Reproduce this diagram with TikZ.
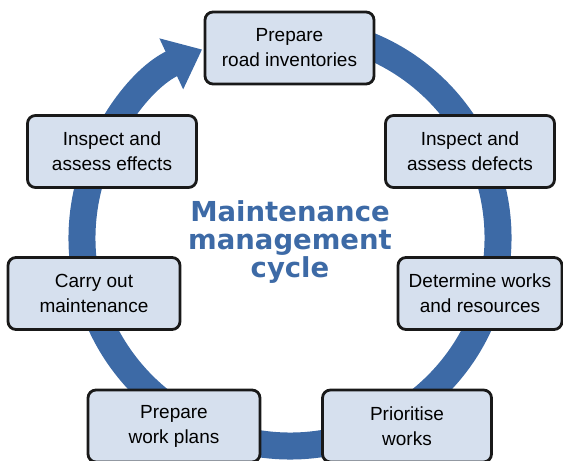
\documentclass[tikz,border=0pt]{standalone}
\usepackage{fontspec}
\setmainfont{Liberation Sans}
\newfontfamily\titlefont{DejaVu Sans}
\usepackage{xcolor}
\usetikzlibrary{arrows.meta}

\definecolor{ringblue}{RGB}{61,106,166}
\definecolor{boxfill}{RGB}{214,224,238}
\definecolor{boxline}{RGB}{25,25,25}

\begin{document}
\begin{tikzpicture}[
    x=1pt, y=1pt,
    box/.style={rectangle, draw=boxline, fill=boxfill, line width=2.8pt, rounded corners=8pt, align=center, minimum height=72pt, minimum width=169pt, inner sep=0pt, font=\fontsize{19}{25}\selectfont},
    ring/.style={-{Triangle[length=34pt, width=54pt]}, line width=27pt, draw=ringblue},
    title/.style={align=center, text=ringblue, font=\titlefont\bfseries\fontsize{27.5}{28}\selectfont}
]
    \useasboundingbox (0,0) rectangle (563,461);
    \coordinate (c) at (290,223);

    % the cycle ring, drawn under the boxes
    \draw [ring] ([shift={(80:208pt)}]c) arc [start angle=80, end angle=-245, radius=208pt];

    \node [box] (n1) at (289.5,413) {Prepare\\road inventories};
    \node [box] (n2) at (470,309.5) {Inspect and\\assess defects};
    \node [box, minimum width=164pt] (n3) at (480,167.5) {Determine works\\and resources};
    \node [box] (n4) at (407,35) {Prioritise\\works};
    \node [box, minimum width=172pt] (n5) at (174,35) {Prepare\\work plans};
    \node [box, minimum width=172pt] (n6) at (94,167.5) {Carry out\\maintenance};
    \node [box] (n7) at (112,309.5) {Inspect and\\assess effects};

    \node [title] (t) at (290,219) {Maintenance\\management\\cycle};
\end{tikzpicture}
\end{document}
